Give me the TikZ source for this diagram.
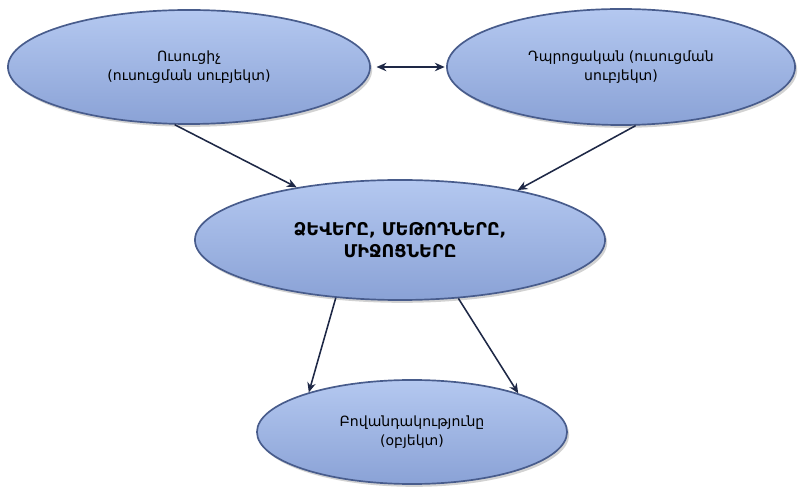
\documentclass[tikz,border=0pt]{standalone}
\usepackage{fontspec}
\newfontfamily\armfont{DejaVu Sans}
\usetikzlibrary{shapes.geometric,arrows.meta,shadows}
\definecolor{elltop}{RGB}{180,200,240}
\definecolor{ellbot}{RGB}{138,162,214}
\definecolor{elledge}{RGB}{72,92,140}
\definecolor{arrowcol}{RGB}{30,40,70}
\tikzset{
  oval/.style={ellipse, draw=elledge, line width=1.2pt, top color=elltop, bottom color=ellbot,
    inner sep=0pt, align=center, font=\armfont\fontsize{10}{13}\selectfont, text=black,
    drop shadow={shadow xshift=1.5pt, shadow yshift=-2pt, opacity=0.35}},
  conn/.style={-{Stealth[length=7pt,width=6pt]}, line width=1.1pt, draw=arrowcol},
  dconn/.style={{Stealth[length=7pt,width=6pt]}-{Stealth[length=7pt,width=6pt]}, line width=1.1pt, draw=arrowcol}
}
\begin{document}
\begin{tikzpicture}[x=0.025cm, y=-0.025cm]
\useasboundingbox[fill=white] (0,0) rectangle (800,490);
\node[oval, minimum width=9.05cm, minimum height=2.85cm] (tl) at (189,67) {Ուսուցիչ\\(ուսուցման սուբյեկտ)};
\node[oval, minimum width=8.7cm, minimum height=2.9cm] (tr) at (621,67) {Դպրոցական (ուսուցման\\սուբյեկտ)};
\node[oval, minimum width=10.25cm, minimum height=3.0cm, font=\armfont\bfseries\fontsize{12.5}{16}\selectfont] (mid) at (400,240) {ՁԵՎԵՐԸ, ՄԵԹՈԴՆԵՐԸ,\\ՄԻՋՈՑՆԵՐԸ};
\node[oval, minimum width=7.75cm, minimum height=2.6cm] (bot) at (412,432) {Բովանդակությունը\\(օբյեկտ)};
\draw[dconn] ([xshift=4pt]tl.east) -- ([xshift=-1pt]tr.west);
\draw[conn] (tl.256) -- (mid.153);
\draw[conn] (tr.284) -- (mid.23.5);
\draw[conn] (mid.222) -- (bot.159);
\draw[conn] (mid.315) -- (bot.20);
\end{tikzpicture}
\end{document}
